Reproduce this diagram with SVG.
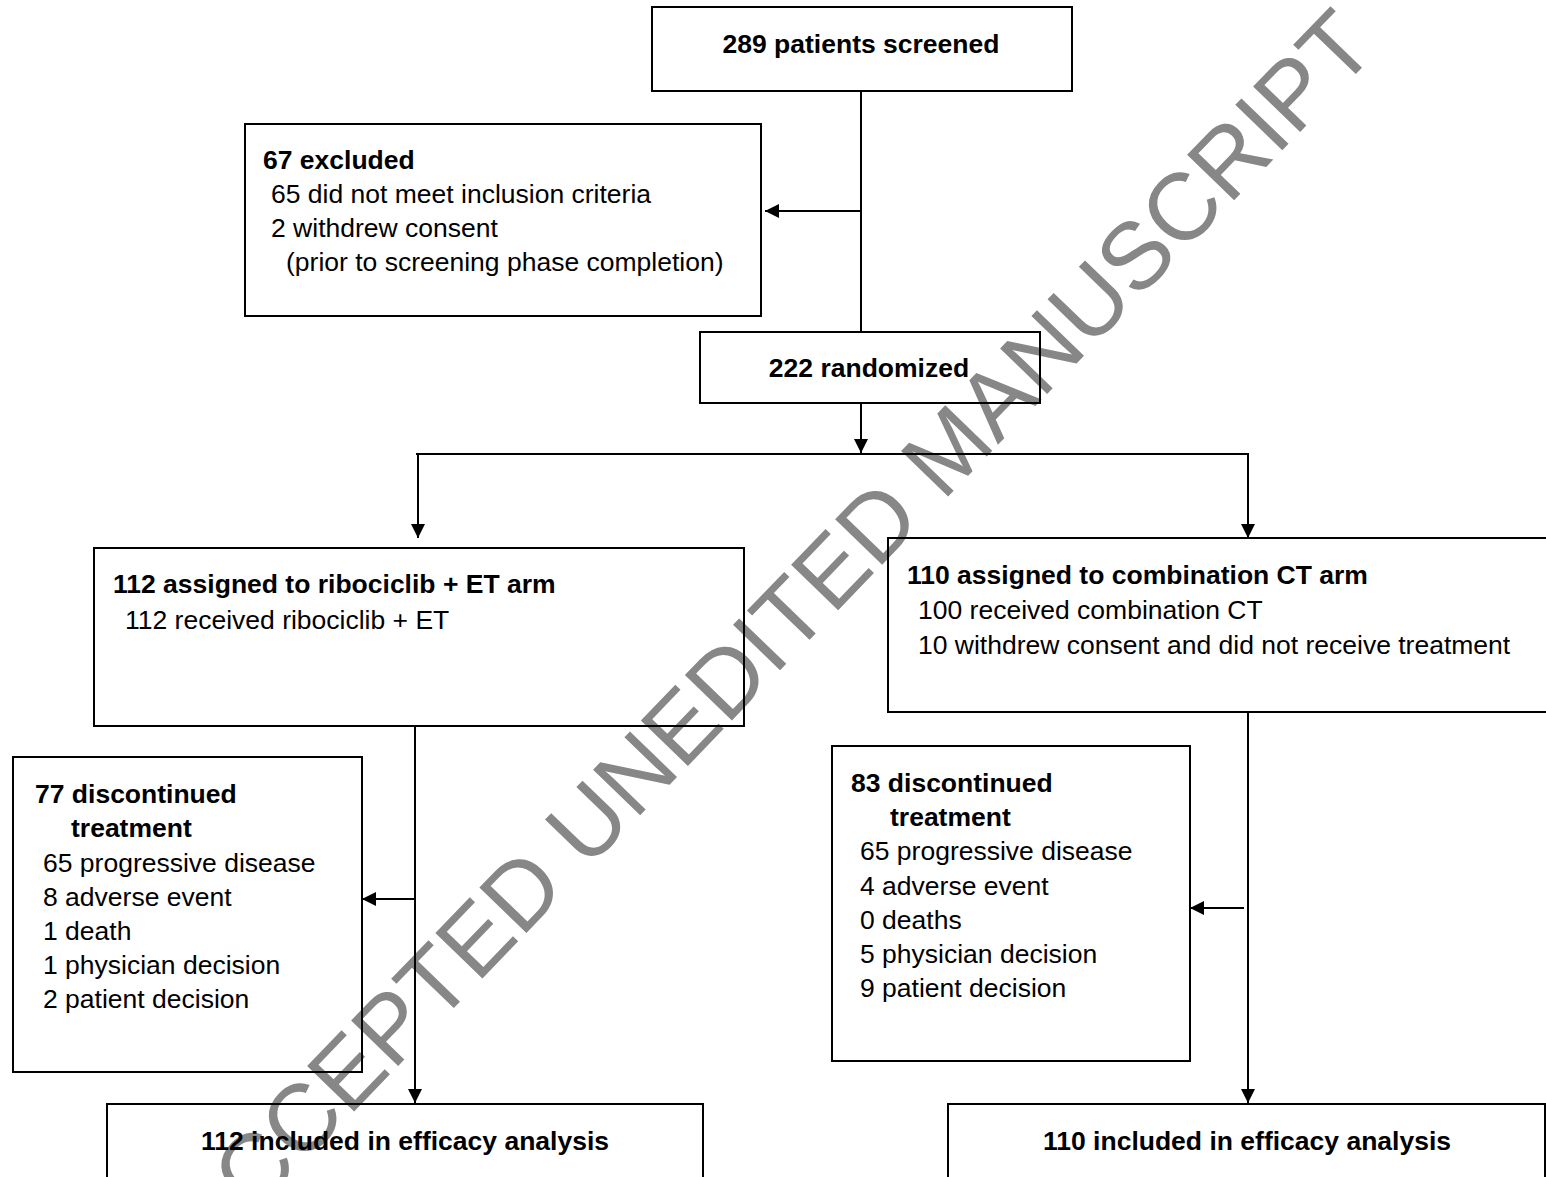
<svg xmlns="http://www.w3.org/2000/svg" width="1546" height="1177" viewBox="0 0 1546 1177">
<defs>
<style>
.box{fill:none;stroke:#000;stroke-width:2}
.ln{fill:none;stroke:#000;stroke-width:2}
text{font-family:"Liberation Sans",Arial,sans-serif;font-size:26.5px;fill:#000}
.b{font-weight:bold}
.m{text-anchor:middle}
.wm{font-size:95px;fill:#878787}
</style>
<marker id="ah" markerUnits="userSpaceOnUse" markerWidth="14" markerHeight="14" viewBox="0 0 14 14" refX="14" refY="7" orient="auto">
<path d="M0,0 L14,7 L0,14 z" fill="#000"/>
</marker>
</defs>
<rect x="0" y="0" width="1546" height="1177" fill="#fff"/>
<text class="wm" transform="translate(209.4,1261.3) rotate(-46)">ACCEPTED UNEDITED MANUSCRIPT</text>

<g id="connectors">
<line class="ln" x1="861" y1="91" x2="861" y2="332"/>
<line class="ln" x1="861" y1="211" x2="765" y2="211" marker-end="url(#ah)"/>
<line class="ln" x1="861" y1="403" x2="861" y2="453" marker-end="url(#ah)"/>
<line class="ln" x1="416" y1="454" x2="1249" y2="454"/>
<line class="ln" x1="418" y1="454" x2="418" y2="538" marker-end="url(#ah)"/>
<line class="ln" x1="1248" y1="454" x2="1248" y2="538" marker-end="url(#ah)"/>
<line class="ln" x1="415" y1="726" x2="415" y2="1103" marker-end="url(#ah)"/>
<line class="ln" x1="415" y1="899" x2="362" y2="899" marker-end="url(#ah)"/>
<line class="ln" x1="1248" y1="712" x2="1248" y2="1103" marker-end="url(#ah)"/>
<line class="ln" x1="1244" y1="908" x2="1190" y2="908" marker-end="url(#ah)"/>
</g>

<g id="screened">
<rect class="box" x="652" y="7" width="420" height="84"/>
<text class="b m" x="861" y="53">289 patients screened</text>
</g>

<g id="excluded">
<rect class="box" x="245" y="124" width="516" height="192"/>
<text class="b" x="263" y="169">67 excluded</text>
<text x="271" y="203">65 did not meet inclusion criteria</text>
<text x="271" y="237">2 withdrew consent</text>
<text x="286" y="271">(prior to screening phase completion)</text>
</g>

<g id="randomized">
<rect class="box" x="700" y="332" width="340" height="71"/>
<text class="b m" x="869" y="377">222 randomized</text>
</g>

<g id="ribociclib-arm">
<rect class="box" x="94" y="548" width="650" height="178"/>
<text class="b" x="113" y="593">112 assigned to ribociclib + ET arm</text>
<text x="125" y="629">112 received ribociclib + ET</text>
</g>

<g id="ct-arm">
<rect class="box" x="888" y="538" width="670" height="174"/>
<text class="b" x="907" y="584">110 assigned to combination CT arm</text>
<text x="918" y="619">100 received combination CT</text>
<text x="918" y="654">10 withdrew consent and did not receive treatment</text>
</g>

<g id="discontinued-left">
<rect class="box" x="13" y="757" width="349" height="315"/>
<text class="b" x="35" y="803">77 discontinued</text>
<text class="b" x="71" y="837">treatment</text>
<text x="43" y="872">65 progressive disease</text>
<text x="43" y="906">8 adverse event</text>
<text x="43" y="940">1 death</text>
<text x="43" y="974">1 physician decision</text>
<text x="43" y="1008">2 patient decision</text>
</g>

<g id="discontinued-right">
<rect class="box" x="832" y="746" width="358" height="315"/>
<text class="b" x="851" y="792">83 discontinued</text>
<text class="b" x="890" y="826">treatment</text>
<text x="860" y="860">65 progressive disease</text>
<text x="860" y="895">4 adverse event</text>
<text x="860" y="929">0 deaths</text>
<text x="860" y="963">5 physician decision</text>
<text x="860" y="997">9 patient decision</text>
</g>

<g id="efficacy-left">
<rect class="box" x="107" y="1104" width="596" height="100"/>
<text class="b m" x="405" y="1150">112 included in efficacy analysis</text>
</g>

<g id="efficacy-right">
<rect class="box" x="948" y="1104" width="597" height="100"/>
<text class="b m" x="1247" y="1150">110 included in efficacy analysis</text>
</g>
</svg>
